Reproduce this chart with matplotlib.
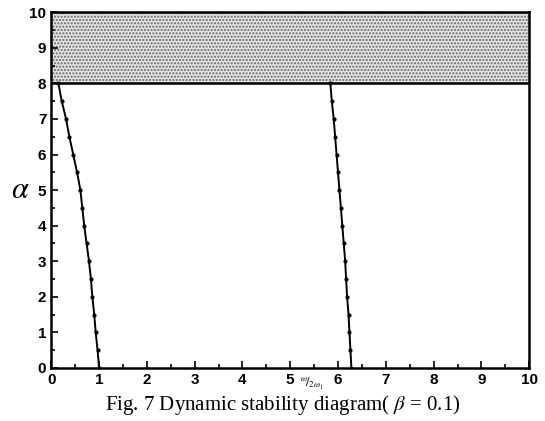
import matplotlib
matplotlib.use('Agg')
import matplotlib.pyplot as plt
from matplotlib.ticker import MultipleLocator

plt.rcParams['mathtext.fontset'] = 'stix'

# left stability boundary (omega/2omega1, alpha)
left_x = [0.15, 0.22, 0.31, 0.38, 0.46, 0.54, 0.61, 0.65, 0.69, 0.74, 0.79, 0.83, 0.86, 0.90, 0.93, 0.97, 1.0]
left_y = [8.0, 7.5, 7.0, 6.5, 6.0, 5.5, 5.0, 4.5, 4.0, 3.5, 3.0, 2.5, 2.0, 1.5, 1.0, 0.5, 0.0]

# right stability boundary
right_x = [5.84, 5.87, 5.91, 5.94, 5.97, 6.00, 6.03, 6.06, 6.09, 6.12, 6.15, 6.17, 6.19, 6.22, 6.24, 6.26, 6.28]
right_y = [8.0, 7.5, 7.0, 6.5, 6.0, 5.5, 5.0, 4.5, 4.0, 3.5, 3.0, 2.5, 2.0, 1.5, 1.0, 0.5, 0.0]

# unstable band
band_low = 8
band_high = 10

fig = plt.figure(figsize=(5.45, 4.21), dpi=100)
ax = fig.add_axes([0.094, 0.126, 0.877, 0.845])

ax.fill_between([0, 10], band_low, band_high, facecolor='#e2e2e2',
                edgecolor='#666666', hatch='.....', linewidth=0)
ax.axhline(band_low, color='black', lw=1.8)

ax.plot(left_x, left_y, color='black', lw=1.4, marker='o', ms=2)
ax.plot(right_x, right_y, color='black', lw=1.4, marker='o', ms=2)

ax.set_xlim(0, 10)
ax.set_ylim(0, 10)
ax.xaxis.set_major_locator(MultipleLocator(1))
ax.yaxis.set_major_locator(MultipleLocator(1))
ax.xaxis.set_minor_locator(MultipleLocator(0.5))
ax.yaxis.set_minor_locator(MultipleLocator(0.5))
ax.tick_params(which='both', direction='in', top=False, right=False, width=1.2)
ax.tick_params(which='major', length=5, labelsize=11)
ax.tick_params(which='minor', length=3)
for lab in ax.get_xticklabels() + ax.get_yticklabels():
    lab.set_fontweight('bold')
    lab.set_family('Liberation Sans')
for s in ax.spines.values():
    s.set_linewidth(1.8)

fig.text(0.037, 0.55, r'$\alpha$', fontsize=22, ha='center', va='center')
fig.text(0.572, 0.088, r'$^{\omega}\!/_{2\omega_1}$', fontsize=9,
         ha='center', va='center')
fig.text(0.518, 0.038, 'Fig. 7 Dynamic stability diagram( $\\beta$ = 0.1)',
         fontsize=15, family='Liberation Serif', ha='center', va='center')

fig.savefig('out.png', dpi=100)
